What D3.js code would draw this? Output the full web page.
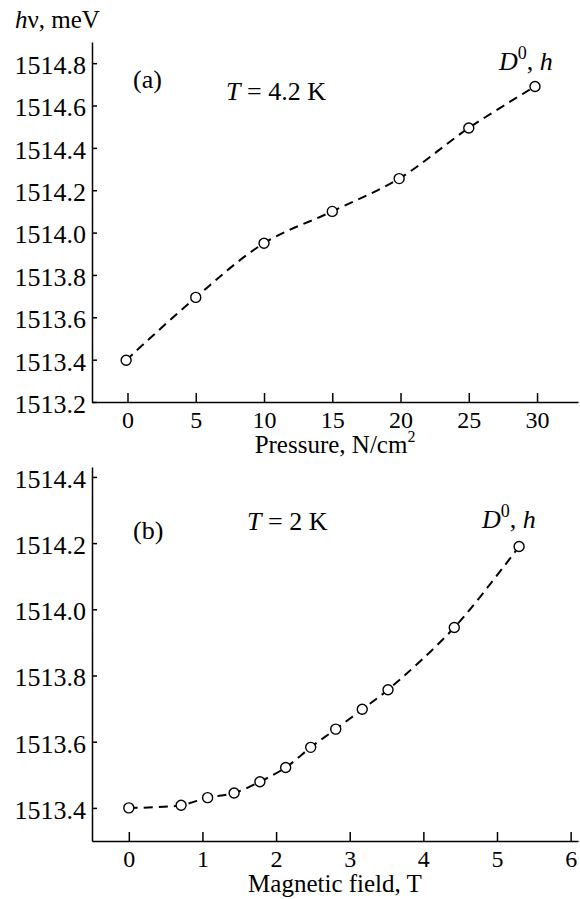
<!DOCTYPE html>
<html>
<head>
<meta charset="utf-8">
<script src="https://cdn.jsdelivr.net/npm/d3@7"></script>
<style>
  body { margin: 0; background: #fff; }
  text { font-family: "Liberation Serif", "Times New Roman", serif; fill: #000; }
</style>
</head>
<body>
<div id="chart"></div>
<script>
// panel (a): energy vs pressure, T = 4.2 K
var pressure = [-0.1, 5, 10, 15, 19.9, 25, 29.85];
var energyA = [1513.397, 1513.694, 1513.95, 1514.10, 1514.255, 1514.494, 1514.69];
var ticksXA = [0, 5, 10, 15, 20, 25, 30];
var ticksYA = [1513.2, 1513.4, 1513.6, 1513.8, 1514.0, 1514.2, 1514.4, 1514.6, 1514.8];

// panel (b): energy vs magnetic field, T = 2 K
var field = [0, 0.71, 1.07, 1.43, 1.78, 2.13, 2.47, 2.81, 3.17, 3.52, 4.42, 5.3];
var energyB = [1513.40, 1513.408, 1513.431, 1513.445, 1513.479, 1513.522, 1513.583, 1513.638, 1513.698, 1513.757, 1513.945, 1514.19];
var ticksXB = [0, 1, 2, 3, 4, 5, 6];
var ticksYB = [1513.4, 1513.6, 1513.8, 1514.0, 1514.2, 1514.4];

var width = 580;
var height = 899;
var svg;

function init() {
  svg = d3.select(document.getElementById('chart')).append('svg')
      .attr('width', width)
      .attr('height', height);
}

function print(text, x, y, size, italic) {
  return svg.append('text')
      .attr('x', x)
      .attr('y', y)
      .style('font-size', size + 'px')
      .style('font-style', italic ? 'italic' : 'normal')
      .text(text);
}

function panel(xs, ys, xDomain, yDomain, yRange, xTicks, yTicks) {
  var x = d3.scaleLinear().domain(xDomain).range([92, 578]);
  var y = d3.scaleLinear().domain(yDomain).range(yRange);
  var fmt = d3.format('.1f');

  var gx = svg.append('g')
      .attr('transform', 'translate(0,' + yRange[0] + ')')
      .call(d3.axisBottom(x).tickValues(xTicks).tickSize(-9).tickSizeOuter(0).tickFormat(d3.format('d')));
  gx.selectAll('text').attr('dy', null).attr('y', 26).style('font-size', '24px');

  var gy = svg.append('g')
      .attr('transform', 'translate(92,0)')
      .call(d3.axisLeft(y).tickValues(yTicks).tickSize(-5).tickSizeOuter(0).tickPadding(6).tickFormat(fmt));
  gy.selectAll('text').attr('dy', '0.4em').style('font-size', '26px');

  svg.selectAll('.domain, .tick line').attr('stroke', '#000').attr('stroke-width', 1.5);

  var pts = xs.map(function (d, i) { return [d, ys[i]]; });
  var line = d3.line()
      .x(function (d) { return x(d[0]); })
      .y(function (d) { return y(d[1]); })
      .curve(d3.curveCatmullRom);

  svg.append('path')
      .datum(pts)
      .attr('d', line)
      .attr('fill', 'none')
      .attr('stroke', '#000')
      .attr('stroke-width', 2)
      .attr('stroke-dasharray', '9,6');

  svg.append('g').selectAll('circle')
      .data(pts)
      .enter().append('circle')
      .attr('cx', function (d) { return x(d[0]); })
      .attr('cy', function (d) { return y(d[1]); })
      .attr('r', 5)
      .attr('fill', '#fff')
      .attr('stroke', '#000')
      .attr('stroke-width', 1.4);
}

function label(x, y) {
  var t = print('', x, y, 26, true);
  t.append('tspan').text('D');
  t.append('tspan').style('font-style', 'normal').style('font-size', '18px').attr('dy', -11).text('0');
  t.append('tspan').style('font-style', 'normal').attr('dy', 11).text(',\u00a0');
  t.append('tspan').text('h');
}

function labelT(x, y, value) {
  var t = print('', x, y, 26, false);
  t.append('tspan').style('font-style', 'italic').text('T');
  t.append('tspan').text(' = ' + value + ' K');
}

init();

panel(pressure, energyA, [-2.6, 33], [1513.2, 1514.9], [402, 42], ticksXA, ticksYA);
panel(field, energyB, [-0.5, 6.1], [1513.3, 1514.43], [841, 467], ticksXB, ticksYB);

// y axis title
var yt = print('', 15, 28, 25, false);
yt.append('tspan').style('font-style', 'italic').text('h');
yt.append('tspan').text('ν, meV');

// panel (a) texts
print('(a)', 133, 88, 26, false);
labelT(226, 100, '4.2');
label(499, 70);
var xt = print('Pressure, N/cm', 335, 453, 25, false).attr('text-anchor', 'middle');
xt.append('tspan').style('font-size', '16px').attr('dy', -11).text('2');

// panel (b) texts
print('(b)', 133, 539, 26, false);
labelT(247, 530, '2');
label(482, 528);
print('Magnetic field, T', 335, 892, 25, false).attr('text-anchor', 'middle');
</script>
</body>
</html>
